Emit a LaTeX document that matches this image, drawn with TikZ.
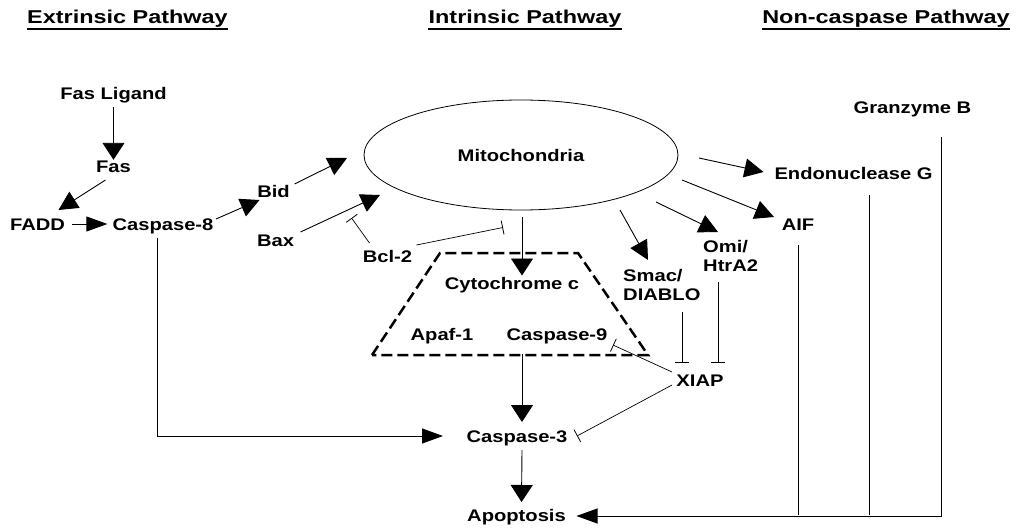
\documentclass[tikz,border=0pt]{standalone}
\usepackage{fontspec}
\setmainfont{Liberation Sans}[FakeStretch=1.2]
\newfontfamily\headfont{Liberation Sans}[FakeStretch=1.26]
\usetikzlibrary{arrows.meta,shapes.geometric}
\begin{document}
\begin{tikzpicture}[x=1pt,y=-1pt,
  lbl/.style={font=\bfseries\fontsize{16.8}{20}\selectfont, inner sep=0pt, text height=12pt, text depth=0pt},
  ml/.style={font=\bfseries\fontsize{16.8}{19}\selectfont, inner sep=0pt, align=left, anchor=west},
  hd/.style={font=\headfont\bfseries\fontsize{18.6}{22}\selectfont, inner sep=0pt, text height=13.3pt, text depth=0pt},
  uline/.style={line width=2.3pt},
  con/.style={line width=0.9pt},
  arr/.style={con, -{Triangle[length=17pt,width=22pt]}},
  harr/.style={con, -{Triangle[length=21pt,width=15pt]}},
  darr/.style={con, -{Triangle[length=19pt,width=19pt]}},
  inh/.style={line width=0.7pt, -{Bar[width=14pt,line width=0.8pt]}},
  complexbox/.style={line width=2.5pt, dash pattern=on 11pt off 5pt, line join=miter},
]
\useasboundingbox (0,0) rectangle (1019,527);

% headings
\node[hd] (hExt) at (127.5,16.7) {Extrinsic Pathway};
\node[hd] (hInt) at (525,16.7) {Intrinsic Pathway};
\node[hd] (hNon) at (886,16.7) {Non-caspase Pathway};
\draw[uline] ([shift={(0,5.8)}]hExt.south west) -- ([shift={(0,5.8)}]hExt.south east);
\draw[uline] ([shift={(0,5.8)}]hInt.south west) -- ([shift={(0,5.8)}]hInt.south east);
\draw[uline] ([shift={(0,5.8)}]hNon.south west) -- ([shift={(0,5.8)}]hNon.south east);

% nodes
\node[lbl] (fasl) at (113.5,93) {Fas Ligand};
\node[lbl] (fas) at (113.5,166) {Fas};
\node[lbl] (fadd) at (37.5,224) {FADD};
\node[lbl] (c8) at (163,224) {Caspase-8};
\node[lbl] (bid) at (273.5,191) {Bid};
\node[lbl] (bax) at (275.5,240) {Bax};
\node[lbl, draw, ellipse, line width=0.8pt, minimum width=314pt, minimum height=110pt] (mito) at (521,155) {Mitochondria};
\node[lbl] (bcl2) at (387.5,256) {Bcl-2};
\node[lbl] (cytc) at (512,283.5) {Cytochrome c};
\node[lbl] (apaf) at (442,334) {Apaf-1};
\node[lbl] (c9) at (557,334) {Caspase-9};
\node[ml] (smac) at (623,285) {Smac/\\DIABLO};
\node[ml] (omi) at (703,256) {Omi/\\HtrA2};
\node[lbl] (aif) at (798,224) {AIF};
\node[lbl] (endo) at (853.5,173) {Endonuclease G};
\node[lbl] (gran) at (912.5,107.5) {Granzyme B};
\node[lbl] (xiap) at (700,380) {XIAP};
\node[lbl] (c3) at (517,436) {Caspase-3};
\node[lbl] (apop) at (516.5,515) {Apoptosis};

% apoptosome complex
\draw[complexbox] (372,355) -- (440,253) -- (578,253) -- (648,355) -- cycle;

% extrinsic
\draw[arr, shorten <=8pt] (fas.north |- fasl.south) -- (fas.north);
\draw[darr] ([shift={(-8,14)}]fas.center) -- ([shift={(21,-14)}]fadd.center);
\draw[harr, shorten <=7pt, shorten >=5pt] (fadd.east) -- (c8.west);
\draw[darr] ([shift={(53,-5)}]c8.center) -- ([shift={(-14,9)}]bid.center);
\draw[harr] ([shift={(-6,14)}]c8.center) |- ([shift={(-74,0)}]c3.center);

% intrinsic
\draw[darr] ([shift={(21,-7)}]bid.center) -- ([shift={(-174,3)}]mito.center);
\draw[darr] ([shift={(25,-8)}]bax.center) -- ([shift={(-141,40)}]mito.center);
\draw[inh] ([shift={(-18,-13)}]bcl2.center) -- ([shift={(-36,-38)}]bcl2.center);
\draw[inh] ([shift={(29,-11)}]bcl2.center) -- ([shift={(-9,-56)}]cytc.center);
\draw[arr] ([shift={(1,7)}]mito.south) -- ([shift={(10,-8)}]cytc.center);
\draw[darr] ([shift={(99,55)}]mito.center) -- ([shift={(25,-25)}]smac.west);
\draw[darr] ([shift={(135,47)}]mito.center) -- ([shift={(15,-24)}]omi.west);
\draw[darr] ([shift={(161,25)}]mito.center) -- ([shift={(-24,-7)}]aif.center);
\draw[darr] ([shift={(178,3)}]mito.center) -- ([shift={(-90,-1)}]endo.center);
\draw[inh] ([shift={(59,27)}]smac.west) -- ([shift={(-18,-17)}]xiap.center);
\draw[inh] ([shift={(15,26)}]omi.west) -- ([shift={(18,-17)}]xiap.center);
\draw[inh] ([shift={(-28,-8)}]xiap.center) -- ([shift={(56,11)}]c9.center);
\draw[inh] ([shift={(-28,5)}]xiap.center) -- ([shift={(60,0)}]c3.center);
\draw[arr] ([shift={(-35,20)}]c9.center) -- ([shift={(5,-14)}]c3.center);
\draw[arr] ([shift={(5,14)}]c3.center) -- ([shift={(5,-13)}]apop.center);

% non-caspase
\draw[harr] ([shift={(28.5,29.5)}]gran.center) |- ([shift={(60,1)}]apop.center);
\draw[con] ([shift={(15.5,22)}]endo.center) coordinate (e1) -- (e1 |- apop);
\draw[con] ([shift={(0,21)}]aif.center) coordinate (a1) -- (a1 |- apop);
\end{tikzpicture}
\end{document}
